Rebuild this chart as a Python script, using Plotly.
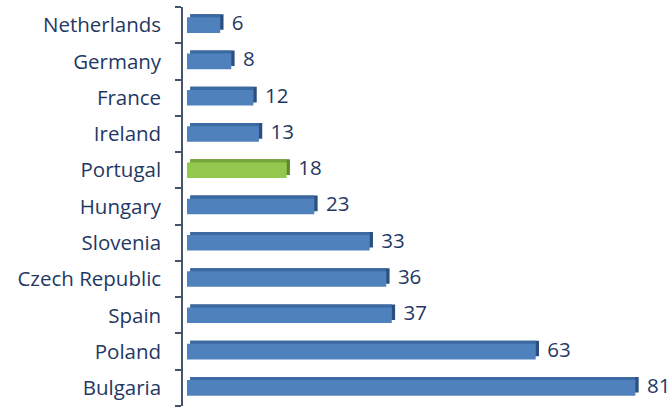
import plotly.graph_objects as go

countries = ["Bulgaria", "Poland", "Spain", "Czech Republic", "Slovenia", "Hungary",
             "Portugal", "Ireland", "France", "Germany", "Netherlands"]
values = [81, 63, 37, 36, 33, 23, 18, 13, 12, 8, 6]
highlight = "Portugal"

face_colors = ["#92C84E" if c == highlight else "#4F81BD" for c in countries]
top_colors = ["#76A63A" if c == highlight else "#3B69A2" for c in countries]
side_colors = ["#5E8A2B" if c == highlight else "#2B4F7E" for c in countries]

FACE_W = 0.43
DEPTH_X = 0.6      # 3D depth along x (data units)
DEPTH_Y = 0.085    # 3D depth along y (category units)
FONT = "Open Sans, Lato, sans-serif"

fig = go.Figure()
# 3D right side (drawn behind)
fig.add_trace(go.Bar(
    y=countries, x=values, base=[DEPTH_X] * len(values), orientation="h",
    width=FACE_W, offset=-FACE_W / 2 + DEPTH_Y,
    marker=dict(color=side_colors, line=dict(width=0)),
    text=["\u00a0" + str(v) for v in values], textposition="outside", constraintext="none",
    textfont=dict(family=FONT, size=20.5, color="#1F3864"),
    cliponaxis=False, hoverinfo="skip", showlegend=False,
))
# 3D top bevel
fig.add_trace(go.Bar(
    y=countries, x=[v - DEPTH_X for v in values], base=[DEPTH_X] * len(values), orientation="h",
    width=FACE_W, offset=-FACE_W / 2 + DEPTH_Y,
    marker=dict(color=top_colors, line=dict(width=0)),
    cliponaxis=False, hoverinfo="skip", showlegend=False,
))
# front face
fig.add_trace(go.Bar(
    y=countries, x=values, orientation="h",
    width=FACE_W, offset=-FACE_W / 2,
    marker=dict(color=face_colors, line=dict(width=0)),
    cliponaxis=False, showlegend=False,
))

fig.update_layout(
    width=672, height=408,
    margin=dict(l=183, r=9, t=7, b=2, autoexpand=False),
    barmode="overlay",
    plot_bgcolor="white", paper_bgcolor="white",
    font=dict(family=FONT, size=20.5, color="#1F3864"),
    xaxis=dict(range=[-0.72, 86], visible=False, fixedrange=True),
    yaxis=dict(
        categoryorder="array", categoryarray=countries,
        range=[-0.5, 10.5], automargin=False,
        showline=True, linecolor="#44546A", linewidth=1.5,
        ticks="outside", ticklen=6, tickcolor="#44546A", tickwidth=1.5,
        tickson="boundaries", ticklabelstandoff=16,
        showgrid=False, zeroline=False,
    ),
)

fig.write_html("out.html", config={"displayModeBar": False},
               post_script="document.body.style.margin='0';document.body.style.overflow='hidden';")
